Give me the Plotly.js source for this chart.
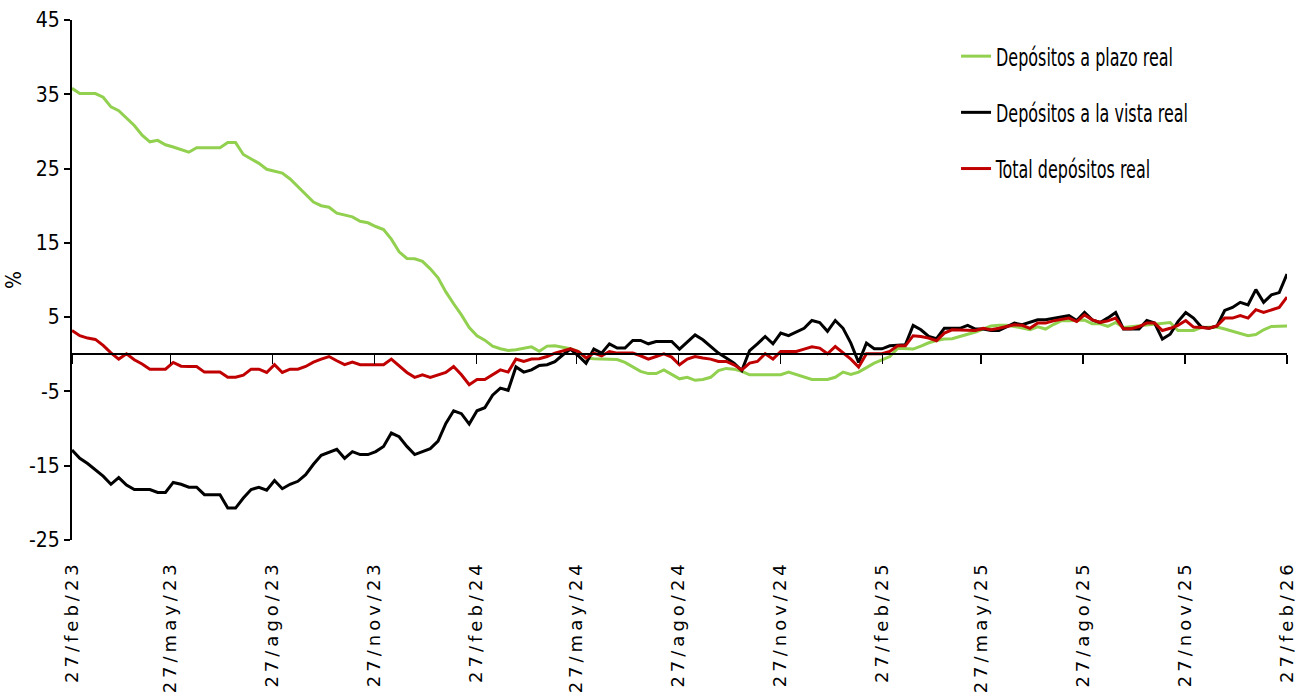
<!DOCTYPE html>
<html>
<head>
<meta charset="utf-8">
<script src="https://cdn.plot.ly/plotly-3.0.1.min.js"></script>
<style>
  html, body { margin: 0; padding: 0; background: #fff; }
  #chart { width: 1306px; height: 696px; }
  .xtick text { letter-spacing: 4px; }
  .legend text.legendtext {
    transform-box: fill-box;
    transform-origin: 0% 50%;
    transform: scale(0.74, 1);
  }
</style>
</head>
<body>
<div id="chart"></div>
<script>
// Weekly series, 27/feb/23 .. 27/feb/26 (157 observations), % real annual change
const startDate = '2023-02-27';
const endDate = '2026-02-27';

const plazoReal = [
  35.8, 35.1, 35.1, 35.1, 34.6, 33.3, 32.8, 31.8, 30.8, 29.5,
  28.6, 28.8, 28.2, 27.9, 27.6, 27.2, 27.8, 27.8, 27.8, 27.8,
  28.5, 28.5, 26.9, 26.3, 25.7, 24.9, 24.7, 24.4, 23.6, 22.6,
  21.5, 20.5, 20.0, 19.8, 19.0, 18.7, 18.5, 17.9, 17.7, 17.2,
  16.8, 15.5, 13.8, 12.9, 12.85, 12.5, 11.5, 10.3, 8.4, 6.8,
  5.3, 3.6, 2.5, 1.9, 1.1, 0.75, 0.5, 0.6, 0.83, 1.0,
  0.4, 1.1, 1.14, 0.9, 0.75, 0.4, -0.5, -0.6, -0.6, -0.6,
  -0.7, -1.1, -1.7, -2.3, -2.6, -2.6, -2.1, -2.7, -3.3, -3.1,
  -3.5, -3.4, -3.1, -2.2, -1.9, -2.0, -2.3, -2.76, -2.76, -2.76,
  -2.76, -2.76, -2.4, -2.7, -3.0, -3.4, -3.4, -3.4, -3.1, -2.4,
  -2.7, -2.4, -1.8, -1.2, -0.75, -0.3, 0.8, 0.7, 0.7, 1.1,
  1.55, 1.86, 2.05, 2.1, 2.35, 2.7, 3.0, 3.4, 3.8, 3.9,
  3.9, 3.75, 3.5, 3.3, 3.7, 3.4, 4.0, 4.5, 4.5, 4.5,
  4.6, 4.1, 4.1, 3.75, 4.28, 3.6, 3.7, 3.85, 3.97, 4.1,
  4.2, 4.28, 3.2, 3.2, 3.2, 3.6, 3.66, 3.66, 3.4, 3.1,
  2.8, 2.5, 2.65, 3.3, 3.75, 3.8, 3.8
];

const vistaReal = [
  -12.9, -14.0, -14.7, -15.5, -16.4, -17.5, -16.6, -17.6, -18.2, -18.2,
  -18.2, -18.6, -18.6, -17.25, -17.5, -17.9, -17.9, -18.9, -18.9, -18.9,
  -20.7, -20.7, -19.35, -18.2, -17.9, -18.3, -17.0, -18.1, -17.5, -17.1,
  -16.2, -14.8, -13.6, -13.2, -12.8, -14.0, -13.1, -13.5, -13.5, -13.1,
  -12.4, -10.6, -11.1, -12.4, -13.5, -13.1, -12.7, -11.7, -9.3, -7.6,
  -8.0, -9.4, -7.6, -7.2, -5.5, -4.55, -4.85, -1.7, -2.4, -2.1,
  -1.5, -1.4, -1.0, -0.1, 0.7, -0.2, -1.2, 0.7, 0.16, 1.4,
  0.83, 0.83, 1.86, 1.86, 1.41, 1.72, 1.72, 1.72, 0.7, 1.6,
  2.6, 1.95, 1.1, 0.16, -0.5, -1.2, -2.2, 0.5, 1.4, 2.4,
  1.41, 2.85, 2.5, 3.0, 3.5, 4.55, 4.28, 3.1, 4.55, 3.5,
  1.5, -1.1, 1.5, 0.74, 0.74, 1.14, 1.2, 1.28, 3.88, 3.3,
  2.4, 2.1, 3.5, 3.5, 3.5, 3.88, 3.4, 3.4, 3.2, 3.2,
  3.7, 4.2, 3.97, 4.28, 4.64, 4.64, 4.8, 5.0, 5.2, 4.55,
  5.63, 4.64, 4.28, 4.9, 5.63, 3.4, 3.4, 3.4, 4.55, 4.2,
  2.05, 2.7, 4.4, 5.63, 4.87, 3.66, 3.5, 3.8, 5.9, 6.3,
  7.0, 6.66, 8.7, 7.0, 8.0, 8.3, 10.8
];

const totalReal = [
  3.2, 2.5, 2.18, 2.0, 1.2, 0.2, -0.65, 0.07, -0.74, -1.3,
  -2.0, -2.0, -2.0, -1.1, -1.6, -1.64, -1.64, -2.4, -2.4, -2.4,
  -3.1, -3.1, -2.8, -2.0, -2.0, -2.45, -1.4, -2.45, -2.0, -2.0,
  -1.64, -1.05, -0.65, -0.3, -0.87, -1.4, -1.05, -1.41, -1.41, -1.41,
  -1.41, -0.65, -1.6, -2.45, -3.1, -2.76, -3.1, -2.76, -2.45, -1.64,
  -2.76, -4.1, -3.4, -3.4, -2.76, -2.1, -2.4, -0.65, -0.97, -0.65,
  -0.6, -0.3, 0.16, 0.47, 0.74, 0.38, -0.5, 0.16, -0.2, 0.38,
  0.16, 0.16, 0.16, -0.2, -0.65, -0.3, 0.07, -0.38, -1.41, -0.65,
  -0.3, -0.5, -0.65, -0.97, -0.97, -1.41, -2.1, -1.19, -0.97, 0.07,
  -0.65, 0.38, 0.38, 0.38, 0.7, 1.0, 0.83, 0.07, 1.05, 0.24,
  -0.65, -1.72, 0.07, 0.07, 0.07, 0.38, 1.14, 1.14, 2.5, 2.4,
  2.18, 1.82, 2.85, 3.3, 3.3, 3.3, 3.2, 3.5, 3.3, 3.5,
  3.7, 3.97, 3.9, 3.5, 4.2, 4.2, 4.5, 4.64, 4.87, 4.4,
  5.3, 4.64, 4.3, 4.5, 4.87, 3.43, 3.43, 3.74, 4.2, 4.2,
  3.2, 3.5, 3.9, 4.55, 3.66, 3.6, 3.5, 3.83, 4.87, 4.87,
  5.2, 4.87, 6.0, 5.63, 6.0, 6.3, 7.7
];

const tickDates = [
  '2023-02-27', '2023-05-27', '2023-08-27', '2023-11-27',
  '2024-02-27', '2024-05-27', '2024-08-27', '2024-11-27',
  '2025-02-27', '2025-05-27', '2025-08-27', '2025-11-27', '2026-02-27'
];
const tickLabels = [
  '27/feb/23', '27/may/23', '27/ago/23', '27/nov/23',
  '27/feb/24', '27/may/24', '27/ago/24', '27/nov/24',
  '27/feb/25', '27/may/25', '27/ago/25', '27/nov/25', '27/feb/26'
];
const yTickValues = [-25, -15, -5, 5, 15, 25, 35, 45];
const yTickLabels = ['-25', '-15', '-5', '5', '15', '25', '35', '45'];
const seriesNames = ['Depósitos a plazo real', 'Depósitos a la vista real', 'Total depósitos real'];
const seriesColors = ['#92D050', '#000000', '#C00000'];

// observation dates, evenly spread between the first and last observation
const t0 = Date.parse(startDate + 'T00:00:00Z');
const t1 = Date.parse(endDate + 'T00:00:00Z');
const n = plazoReal.length;
const dates = [];
for (let i = 0; i < n; i++) {
  const t = t0 + (t1 - t0) * i / (n - 1);
  dates.push(new Date(t).toISOString().slice(0, 19).replace('T', ' '));
}

const NARROW = '"DejaVu Sans Condensed", "Liberation Sans Narrow", sans-serif';
const WIDE = '"DejaVu Sans", Verdana, sans-serif';
const seriesValues = [plazoReal, vistaReal, totalReal];

const traces = seriesValues.map((vals, k) => ({
  type: 'scatter',
  mode: 'lines',
  x: dates,
  y: vals,
  name: seriesNames[k],
  legendgroup: 'g' + k,
  line: { color: seriesColors[k], width: 3 },
  xaxis: 'x',
  yaxis: 'y'
}));
// helper trace so the zero-crossing axis (with its tick marks) is drawn
traces.push({
  type: 'scatter', mode: 'lines', x: [dates[0]], y: [null],
  xaxis: 'x2', yaxis: 'y', showlegend: false, hoverinfo: 'skip'
});

const layout = {
  width: 1306,
  height: 696,
  paper_bgcolor: '#ffffff',
  plot_bgcolor: '#ffffff',
  margin: { l: 72, r: 19, t: 20, b: 156 },
  font: { family: NARROW, size: 21, color: '#000000' },
  showlegend: true,
  legend: {
    x: 0.7276, y: 0.973, xanchor: 'left', yanchor: 'top',
    bgcolor: 'rgba(0,0,0,0)',
    font: { family: NARROW, size: 24, color: '#000000' },
    tracegroupgap: 22,
    traceorder: 'grouped'
  },
  xaxis: {
    type: 'date',
    range: [startDate, endDate],
    tickvals: tickDates,
    ticktext: tickLabels,
    tickangle: -90,
    ticks: 'outside',
    ticklen: 12,
    tickcolor: 'rgba(0,0,0,0)',
    showline: false,
    showgrid: false,
    zeroline: false,
    automargin: false,
    tickfont: { family: WIDE, size: 18, color: '#000000' }
  },
  xaxis2: {
    type: 'date',
    overlaying: 'x',
    anchor: 'free',
    position: 25 / 70,
    range: [startDate, endDate],
    tickvals: tickDates,
    ticks: 'outside',
    ticklen: 9,
    tickwidth: 1.5,
    tickcolor: '#000000',
    showticklabels: false,
    showline: true,
    linecolor: '#000000',
    linewidth: 2,
    showgrid: false,
    zeroline: false
  },
  yaxis: {
    range: [-25, 45],
    tickvals: yTickValues,
    ticktext: yTickLabels,
    ticks: 'outside',
    ticklen: 6,
    tickwidth: 2,
    tickcolor: '#000000',
    showline: true,
    linecolor: '#000000',
    linewidth: 2,
    showgrid: false,
    zeroline: false,
    automargin: false,
    tickfont: { family: NARROW, size: 21, color: '#000000' },
    title: { text: '%', font: { family: NARROW, size: 21, color: '#000000' }, standoff: 2 }
  }
};

Plotly.newPlot('chart', traces, layout, { displayModeBar: false, staticPlot: true });
</script>
</body>
</html>
